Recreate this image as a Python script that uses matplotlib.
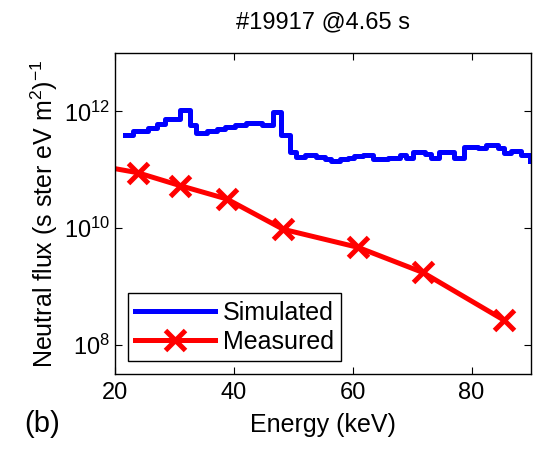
import numpy as np
import matplotlib
matplotlib.use('Agg')
import matplotlib.pyplot as plt
from matplotlib.ticker import FixedLocator, NullLocator

plt.rcParams['font.family'] = ['Liberation Sans', 'DejaVu Sans']
plt.rcParams['mathtext.fontset'] = 'custom'
plt.rcParams['mathtext.rm'] = 'Liberation Sans'
plt.rcParams['mathtext.it'] = 'Liberation Sans:italic'

# Simulated spectrum: bin left edges (keV) and log10 flux
sim_edges = [21.7, 23.1, 24.2, 25.6, 27.0, 28.4, 29.7, 30.9, 32.6, 33.7,
             35.4, 37.1, 38.5, 40.2, 42.1, 43.4, 44.7, 46.6, 48.0, 49.4,
             50.5, 51.9, 53.9, 55.3, 56.4, 57.8, 59.2, 60.3, 61.7, 63.4,
             64.7, 65.9, 67.9, 69.0, 70.1, 72.1, 73.2, 74.6, 75.8, 77.1,
             78.8, 80.0, 81.1, 82.5, 84.4, 85.5, 86.7, 88.4, 89.8]
sim_log = [11.60, 11.67, 11.67, 11.71, 11.79, 11.87, 11.87, 12.02, 11.76, 11.63,
           11.67, 11.70, 11.73, 11.76, 11.81, 11.81, 11.77, 11.99, 11.59, 11.30,
           11.22, 11.25, 11.22, 11.19, 11.15, 11.19, 11.20, 11.23, 11.26, 11.19,
           11.18, 11.20, 11.26, 11.20, 11.30, 11.27, 11.21, 11.30, 11.30, 11.21,
           11.39, 11.39, 11.37, 11.42, 11.37, 11.28, 11.32, 11.26, 11.15]

# Measured points
meas_energy = [15.0, 23.8, 30.9, 38.8, 48.3, 60.9, 71.8, 85.5]
meas_log = [11.11, 10.95, 10.73, 10.50, 9.98, 9.67, 9.24, 8.42]

fig = plt.figure(figsize=(5.39, 4.5), dpi=100)
ax = fig.add_axes([0.2134, 0.169, 0.7716, 0.713])

ax.step(sim_edges, 10 ** np.array(sim_log), where='post', color='#0000ff',
        lw=3.6, label='Simulated')
ax.plot(meas_energy, 10 ** np.array(meas_log), color='#ff0000', lw=3.6,
        marker='x', markersize=15, markeredgewidth=3.6, label='Measured')

ax.set_yscale('log')
ax.set_xlim(20, 90)
ax.set_ylim(10 ** 7.5, 1e13)
ax.set_xticks([20, 40, 60, 80])
ax.yaxis.set_major_locator(FixedLocator([1e8, 1e10, 1e12]))
ax.yaxis.set_minor_locator(NullLocator())
ax.tick_params(direction='in', top=True, right=True, labelsize=17,
               length=5, width=0.8)
ax.tick_params(axis='x', pad=6)
for s in ax.spines.values():
    s.set_linewidth(1.0)

ax.set_xlabel('Energy (keV)', fontsize=18, labelpad=6)
ax.set_ylabel('Neutral flux (s ster eV m$^2$)$^{-1}$', fontsize=18, labelpad=3)
ax.set_title('#19917 @4.65 s', fontsize=17, pad=18)

leg = ax.legend(loc='lower left', fontsize=18, fancybox=False, edgecolor='black',
                framealpha=1, handlelength=3.2, borderaxespad=0.5,
                handletextpad=0.3, borderpad=0.3, labelspacing=0.2)
leg.get_frame().set_linewidth(1.0)

fig.text(0.045, 0.04, '(b)', fontsize=21)

fig.savefig('out.png', dpi=100)
